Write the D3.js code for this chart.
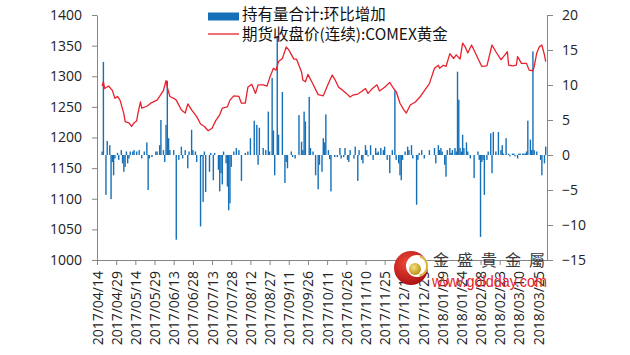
<!DOCTYPE html>
<html>
<head>
<meta charset="utf-8">
<script src="https://cdn.jsdelivr.net/npm/d3@7"></script>
<style>
  body { margin: 0; background: #fff; }
  svg { display: block; }
</style>
</head>
<body>
<svg id="chart" width="630" height="355"></svg>
<script>
// ---- data ----
const seriesNames = ['持有量合计:环比增加', '期货收盘价(连续):COMEX黄金'];

const priceDates = [
  '2017-04-18','2017-04-19','2017-04-20','2017-04-23','2017-04-26','2017-04-28','2017-04-30',
  '2017-05-02','2017-05-05','2017-05-06','2017-05-09','2017-05-11','2017-05-13','2017-05-15',
  '2017-05-16','2017-05-18','2017-05-19','2017-05-23','2017-05-26','2017-05-31','2017-06-02',
  '2017-06-05','2017-06-07','2017-06-08','2017-06-10','2017-06-13','2017-06-15','2017-06-19',
  '2017-06-22','2017-06-24','2017-06-27','2017-07-01','2017-07-04','2017-07-07','2017-07-10',
  '2017-07-13','2017-07-16','2017-07-19','2017-07-21','2017-07-25','2017-07-27','2017-07-30',
  '2017-08-03','2017-08-05','2017-08-08','2017-08-10','2017-08-13','2017-08-16','2017-08-18',
  '2017-08-22','2017-08-25','2017-08-27','2017-08-30','2017-09-01','2017-09-03','2017-09-06',
  '2017-09-07','2017-09-09','2017-09-11','2017-09-15','2017-09-17','2017-09-21','2017-09-22',
  '2017-09-24','2017-09-26','2017-09-30','2017-10-04','2017-10-08','2017-10-12','2017-10-15',
  '2017-10-17','2017-10-20','2017-10-22','2017-10-26','2017-10-29','2017-10-31','2017-11-04',
  '2017-11-07','2017-11-10','2017-11-12','2017-11-15','2017-11-19','2017-11-21','2017-11-25',
  '2017-11-29','2017-12-02','2017-12-04','2017-12-07','2017-12-10','2017-12-12','2017-12-15',
  '2017-12-19','2017-12-23','2017-12-26','2017-12-30','2018-01-03','2018-01-06','2018-01-07',
  '2018-01-10','2018-01-12','2018-01-15','2018-01-18','2018-01-20','2018-01-23','2018-01-25',
  '2018-01-27','2018-01-29','2018-02-01','2018-02-04','2018-02-06','2018-02-09','2018-02-13',
  '2018-02-17','2018-02-20','2018-02-24','2018-02-26','2018-03-01','2018-03-02','2018-03-05',
  '2018-03-08','2018-03-09','2018-03-12','2018-03-16','2018-03-18','2018-03-21','2018-03-22',
  '2018-03-24','2018-03-26','2018-03-28','2018-03-30','2018-03-31'
];
const priceValues = [
  1284, 1291, 1280, 1284, 1277, 1264, 1267,
  1261, 1239, 1226, 1224, 1218, 1224, 1227,
  1239, 1258, 1248, 1251, 1256, 1261, 1267,
  1277, 1293, 1282, 1267, 1264, 1261, 1245,
  1240, 1255, 1245, 1234, 1222, 1218, 1211,
  1215, 1228, 1237, 1248, 1250, 1261, 1268,
  1267, 1256, 1256, 1282, 1287, 1272, 1286,
  1286, 1284, 1297, 1313, 1310, 1324, 1329,
  1335, 1348, 1343, 1328, 1328, 1307, 1294,
  1291, 1303, 1287, 1270, 1268, 1288, 1302,
  1295, 1282, 1279, 1272, 1266, 1269, 1271,
  1275, 1280, 1272, 1279, 1286, 1276, 1282,
  1290, 1280, 1275, 1256, 1245, 1240, 1253,
  1258, 1267, 1276, 1288, 1313, 1318, 1313,
  1318, 1316, 1337, 1329, 1335, 1328, 1354,
  1348, 1338, 1351, 1338, 1329, 1316, 1317,
  1351, 1340, 1327, 1332, 1340, 1318, 1317,
  1318, 1332, 1321, 1321, 1310, 1309, 1316,
  1338, 1348, 1351, 1335, 1324
];

const barDates = [
  '2017-04-18','2017-04-19','2017-04-21','2017-04-22','2017-04-24','2017-04-25','2017-04-26',
  '2017-04-27','2017-04-28','2017-04-30','2017-05-01','2017-05-03','2017-05-04','2017-05-05',
  '2017-05-06','2017-05-07','2017-05-08','2017-05-09','2017-05-10','2017-05-12','2017-05-13',
  '2017-05-15','2017-05-17','2017-05-19','2017-05-21','2017-05-23','2017-05-24','2017-05-25',
  '2017-05-27','2017-05-30','2017-05-31','2017-06-02','2017-06-03','2017-06-05','2017-06-06',
  '2017-06-07','2017-06-08','2017-06-09','2017-06-10','2017-06-13','2017-06-15','2017-06-17',
  '2017-06-19','2017-06-20','2017-06-22','2017-06-24','2017-06-25','2017-06-27','2017-06-28',
  '2017-06-30','2017-07-01','2017-07-04','2017-07-05','2017-07-06','2017-07-07','2017-07-08',
  '2017-07-11','2017-07-12','2017-07-14','2017-07-15','2017-07-18','2017-07-19','2017-07-20',
  '2017-07-21','2017-07-22','2017-07-24','2017-07-25','2017-07-26','2017-07-27','2017-07-28',
  '2017-07-30','2017-08-01','2017-08-03','2017-08-05','2017-08-08','2017-08-10','2017-08-12',
  '2017-08-15','2017-08-17','2017-08-18','2017-08-19','2017-08-22','2017-08-24','2017-08-26',
  '2017-08-27','2017-08-29','2017-08-30','2017-08-31','2017-09-02','2017-09-03','2017-09-06',
  '2017-09-08','2017-09-09','2017-09-10','2017-09-13','2017-09-14','2017-09-16','2017-09-19',
  '2017-09-21','2017-09-22','2017-09-23','2017-09-24','2017-09-27','2017-09-28','2017-09-30',
  '2017-10-02','2017-10-04','2017-10-05','2017-10-07','2017-10-08','2017-10-09','2017-10-10',
  '2017-10-12','2017-10-13','2017-10-14','2017-10-17','2017-10-19','2017-10-21','2017-10-22',
  '2017-10-24','2017-10-25','2017-10-27','2017-10-28','2017-10-29','2017-11-01','2017-11-02',
  '2017-11-04','2017-11-05','2017-11-07','2017-11-08','2017-11-10','2017-11-11','2017-11-12',
  '2017-11-14','2017-11-16','2017-11-18','2017-11-19','2017-11-20','2017-11-22','2017-11-24',
  '2017-11-25','2017-11-27','2017-11-29','2017-12-01','2017-12-03','2017-12-04','2017-12-06',
  '2017-12-07','2017-12-08','2017-12-09','2017-12-11','2017-12-13','2017-12-14','2017-12-16',
  '2017-12-17','2017-12-20','2017-12-21','2017-12-22','2017-12-24','2017-12-26','2017-12-30',
  '2018-01-03','2018-01-04','2018-01-06','2018-01-07','2018-01-08','2018-01-09','2018-01-11',
  '2018-01-12','2018-01-13','2018-01-15','2018-01-16','2018-01-17','2018-01-19','2018-01-20',
  '2018-01-21','2018-01-22','2018-01-23','2018-01-24','2018-01-25','2018-01-26','2018-01-28',
  '2018-01-29','2018-01-31','2018-02-03','2018-02-06','2018-02-07','2018-02-08','2018-02-09',
  '2018-02-10','2018-02-11','2018-02-13','2018-02-14','2018-02-16','2018-02-17','2018-02-18',
  '2018-02-20','2018-02-22','2018-02-24','2018-02-25','2018-02-26','2018-02-28','2018-03-02',
  '2018-03-03','2018-03-05','2018-03-06','2018-03-07','2018-03-09','2018-03-10','2018-03-11',
  '2018-03-13','2018-03-14','2018-03-15','2018-03-16','2018-03-17','2018-03-19','2018-03-20',
  '2018-03-21','2018-03-22','2018-03-24','2018-03-27','2018-03-28','2018-03-30','2018-03-31'
];
const barValues = [
  0.5, 13.3, -5.7, 2.0, 1.4, -6.3, -1.0,
  -2.9, -0.5, 0.3, -0.7, 0.7, -1.2, -2.4,
  -1.7, 0.5, -1.2, -0.5, 0.5, 0.5, 0.7,
  0.5, 0.7, -0.5, 0.5, 1.8, -5.0, -0.5,
  -0.3, 0.5, 0.5, 1.4, 5.0, 0.7, -1.0,
  4.3, 10.6, 2.4, 0.7, 0.7, -12.1, -0.7,
  1.2, -0.5, 0.7, -1.9, 0.5, 3.6, 0.7,
  0.5, -1.0, -10.2, -0.2, -6.7, 0.5, -5.3,
  -2.4, 0.3, -3.6, 0.3, -2.1, -5.2, -2.6,
  -4.2, 0.5, -1.2, -4.5, -7.9, -6.9, -1.7,
  0.5, 1.0, 0.7, -3.7, 0.3, 0.5, 2.4,
  4.9, 4.3, -1.4, 3.9, 1.0, 0.7, 6.2,
  0.5, 11.0, 3.5, -2.9, 17.0, 2.9, 9.0,
  -4.0, -1.0, -1.9, 0.5, -0.3, -0.5, 5.7,
  1.9, 0.7, 6.2, 4.8, 8.3, 1.0, 0.5,
  -2.9, -4.9, -1.4, -2.4, 2.4, 1.8, 5.8,
  0.7, -0.6, -5.2, -0.3, -0.3, 1.0, -0.5,
  -0.3, 1.0, -0.7, -1.0, 0.7, -0.5, 1.2,
  -3.7, 0.7, -0.7, -1.2, 1.4, 0.7, -0.2,
  1.4, -0.7, 1.0, 0.3, 0.5, 1.0, 0.7,
  1.2, -0.7, -2.6, 0.7, 9.2, -0.7, -1.2,
  -2.9, -3.6, -0.7, 0.5, 1.2, 0.7, 1.4,
  -0.5, -7.1, -0.7, 0.3, 0.7, -0.5, 0.7,
  1.0, -1.2, 1.4, 0.7, 1.0, 0.5, -1.4,
  -3.1, 0.7, 1.0, 0.3, 0.7, 1.0, 0.5,
  11.9, 7.9, 1.0, 0.5, 2.9, 1.0, 1.8,
  0.5, -0.5, -3.3, 0.5, -0.7, -11.7, -1.0,
  -0.7, -5.7, -0.7, 0.5, 3.1, -2.6, 3.3,
  0.5, 3.3, 0.7, 1.4, 0.2, 2.4, 0.2,
  -0.2, 0.2, 0.2, -0.2, -0.5, 0.2, 0.2,
  0.2, 0.2, 0.2, 0.5, 4.9, 2.2, 0.7,
  14.8, 0.7, 0.5, -0.7, -2.9, -1.2, 1.2
];

const dateTicks = [
  '2017/04/14','2017/04/29','2017/05/14','2017/05/29','2017/06/13','2017/06/28',
  '2017/07/13','2017/07/28','2017/08/12','2017/08/27','2017/09/11','2017/09/26',
  '2017/10/11','2017/10/26','2017/11/10','2017/11/25','2017/12/10','2017/12/25',
  '2018/01/09','2018/01/24','2018/02/08','2018/02/23','2018/03/10','2018/03/25'
];
const leftTicks = [1000, 1050, 1100, 1150, 1200, 1250, 1300, 1350, 1400];
const rightTicks = [-15, -10, -5, 0, 5, 10, 15, 20];

// ---- layout ----
const plot = { left: 97, right: 547, top: 15, bottom: 260 };
const font = '"Open Sans", "Noto Sans CJK SC", sans-serif';
const cjkFont = '"Noto Sans CJK SC", "Open Sans", sans-serif';
const axisColor = '#868686';
const barColor = '#1570b8';
const lineColor = '#e8212c';

const parseDash = d3.timeParse('%Y-%m-%d');
const parseSlash = d3.timeParse('%Y/%m/%d');

const svg = d3.select('#chart');

const x = d3.scaleTime()
  .domain([parseDash('2017-04-14'), parseDash('2018-04-01')])
  .range([plot.left, plot.right]);

const yLeft = d3.scaleLinear()
  .domain([1000, 1400])
  .range([plot.bottom, plot.top]);

const yRight = d3.scaleLinear()
  .domain([-15, 20])
  .range([plot.bottom, plot.top]);

// bars (right axis)
const bars = barDates.map((d, i) => ({ date: parseDash(d), value: barValues[i] }));
svg.append('g')
  .selectAll('rect')
  .data(bars)
  .join('rect')
  .attr('x', d => x(d.date) - 0.7)
  .attr('width', 1.4)
  .attr('y', d => yRight(Math.max(0, d.value)))
  .attr('height', d => Math.max(0.6, Math.abs(yRight(d.value) - yRight(0))))
  .attr('fill', barColor);

// price line (left axis)
const prices = priceDates.map((d, i) => ({ date: parseDash(d), value: priceValues[i] }));
const line = d3.line()
  .x(d => x(d.date))
  .y(d => yLeft(d.value));

svg.append('path')
  .datum(prices)
  .attr('d', line)
  .attr('fill', 'none')
  .attr('stroke', lineColor)
  .attr('stroke-width', 1.3)
  .attr('stroke-linejoin', 'round');

// axes
function styleAxis(g) {
  g.selectAll('path, line').attr('stroke', axisColor);
  g.selectAll('text')
    .attr('fill', '#222')
    .style('font-family', font)
    .style('font-size', '14px');
}

svg.append('g')
  .attr('transform', `translate(${plot.left},0)`)
  .call(d3.axisLeft(yLeft).tickValues(leftTicks).tickFormat(d3.format('d'))
    .tickSize(5).tickPadding(10).tickSizeOuter(0))
  .call(styleAxis);

svg.append('g')
  .attr('transform', `translate(${plot.right},0)`)
  .call(d3.axisRight(yRight).tickValues(rightTicks).tickFormat(d3.format('d'))
    .tickSize(6).tickPadding(9).tickSizeOuter(0))
  .call(styleAxis);

const xAxis = svg.append('g')
  .attr('transform', `translate(0,${plot.bottom})`)
  .call(d3.axisBottom(x)
    .tickValues(dateTicks.map(parseSlash))
    .tickFormat(d3.timeFormat('%Y/%m/%d'))
    .tickSize(5)
    .tickSizeOuter(0))
  .call(styleAxis);

xAxis.selectAll('text')
  .attr('transform', 'rotate(-90)')
  .attr('text-anchor', 'end')
  .attr('x', -11)
  .attr('y', 0)
  .attr('dy', '0.36em');

// legend
const legend = svg.append('g');
legend.append('rect')
  .attr('x', 208).attr('y', 12.5)
  .attr('width', 31).attr('height', 8)
  .attr('fill', barColor);
legend.append('text')
  .attr('x', 242).attr('y', 20)
  .style('font-family', cjkFont).style('font-size', '15.5px')
  .attr('fill', '#111')
  .text(seriesNames[0]);
legend.append('line')
  .attr('x1', 208).attr('x2', 239)
  .attr('y1', 34).attr('y2', 34)
  .attr('stroke', lineColor).attr('stroke-width', 1.3);
legend.append('text')
  .attr('x', 242).attr('y', 40)
  .style('font-family', cjkFont).style('font-size', '15.5px')
  .attr('fill', '#111')
  .text(seriesNames[1]);

// watermark logo
const mark = svg.append('g');
const defs = svg.append('defs');
const grad = defs.append('radialGradient')
  .attr('id', 'redball').attr('cx', '40%').attr('cy', '35%').attr('r', '70%');
grad.append('stop').attr('offset', '0%').attr('stop-color', '#f04a3a');
grad.append('stop').attr('offset', '100%').attr('stop-color', '#a80f12');
const gold = defs.append('radialGradient')
  .attr('id', 'goldball').attr('cx', '40%').attr('cy', '35%').attr('r', '70%');
gold.append('stop').attr('offset', '0%').attr('stop-color', '#f7e27a');
gold.append('stop').attr('offset', '100%').attr('stop-color', '#b88a10');

mark.append('circle').attr('cx', 411).attr('cy', 268).attr('r', 17).attr('fill', 'url(#redball)');
mark.append('circle').attr('cx', 417).attr('cy', 266).attr('r', 11).attr('fill', '#fff');
mark.append('path')
  .attr('d', d3.arc()({ innerRadius: 9, outerRadius: 11, startAngle: 0.3, endAngle: 2.9 }))
  .attr('transform', 'translate(417,266)')
  .attr('fill', '#d9b23a');
mark.append('circle').attr('cx', 415).attr('cy', 269).attr('r', 6).attr('fill', 'url(#goldball)');

const markChars = ['金', '盛', '貴', '金', '屬'];
mark.selectAll('text.mc')
  .data(markChars)
  .join('text')
  .attr('class', 'mc')
  .attr('x', (d, i) => 441 + i * 24)
  .attr('y', 266)
  .attr('text-anchor', 'middle')
  .style('font-family', cjkFont)
  .style('font-size', '16px')
  .attr('fill', '#3a3a3a')
  .text(d => d);

mark.append('text')
  .attr('x', 432).attr('y', 287)
  .attr('textLength', 115)
  .attr('lengthAdjust', 'spacingAndGlyphs')
  .style('font-family', '"Liberation Sans", Arial, sans-serif')
  .style('font-size', '17px')
  .attr('fill', '#e8232a')
  .text('www.goldday.com');
</script>
</body>
</html>
